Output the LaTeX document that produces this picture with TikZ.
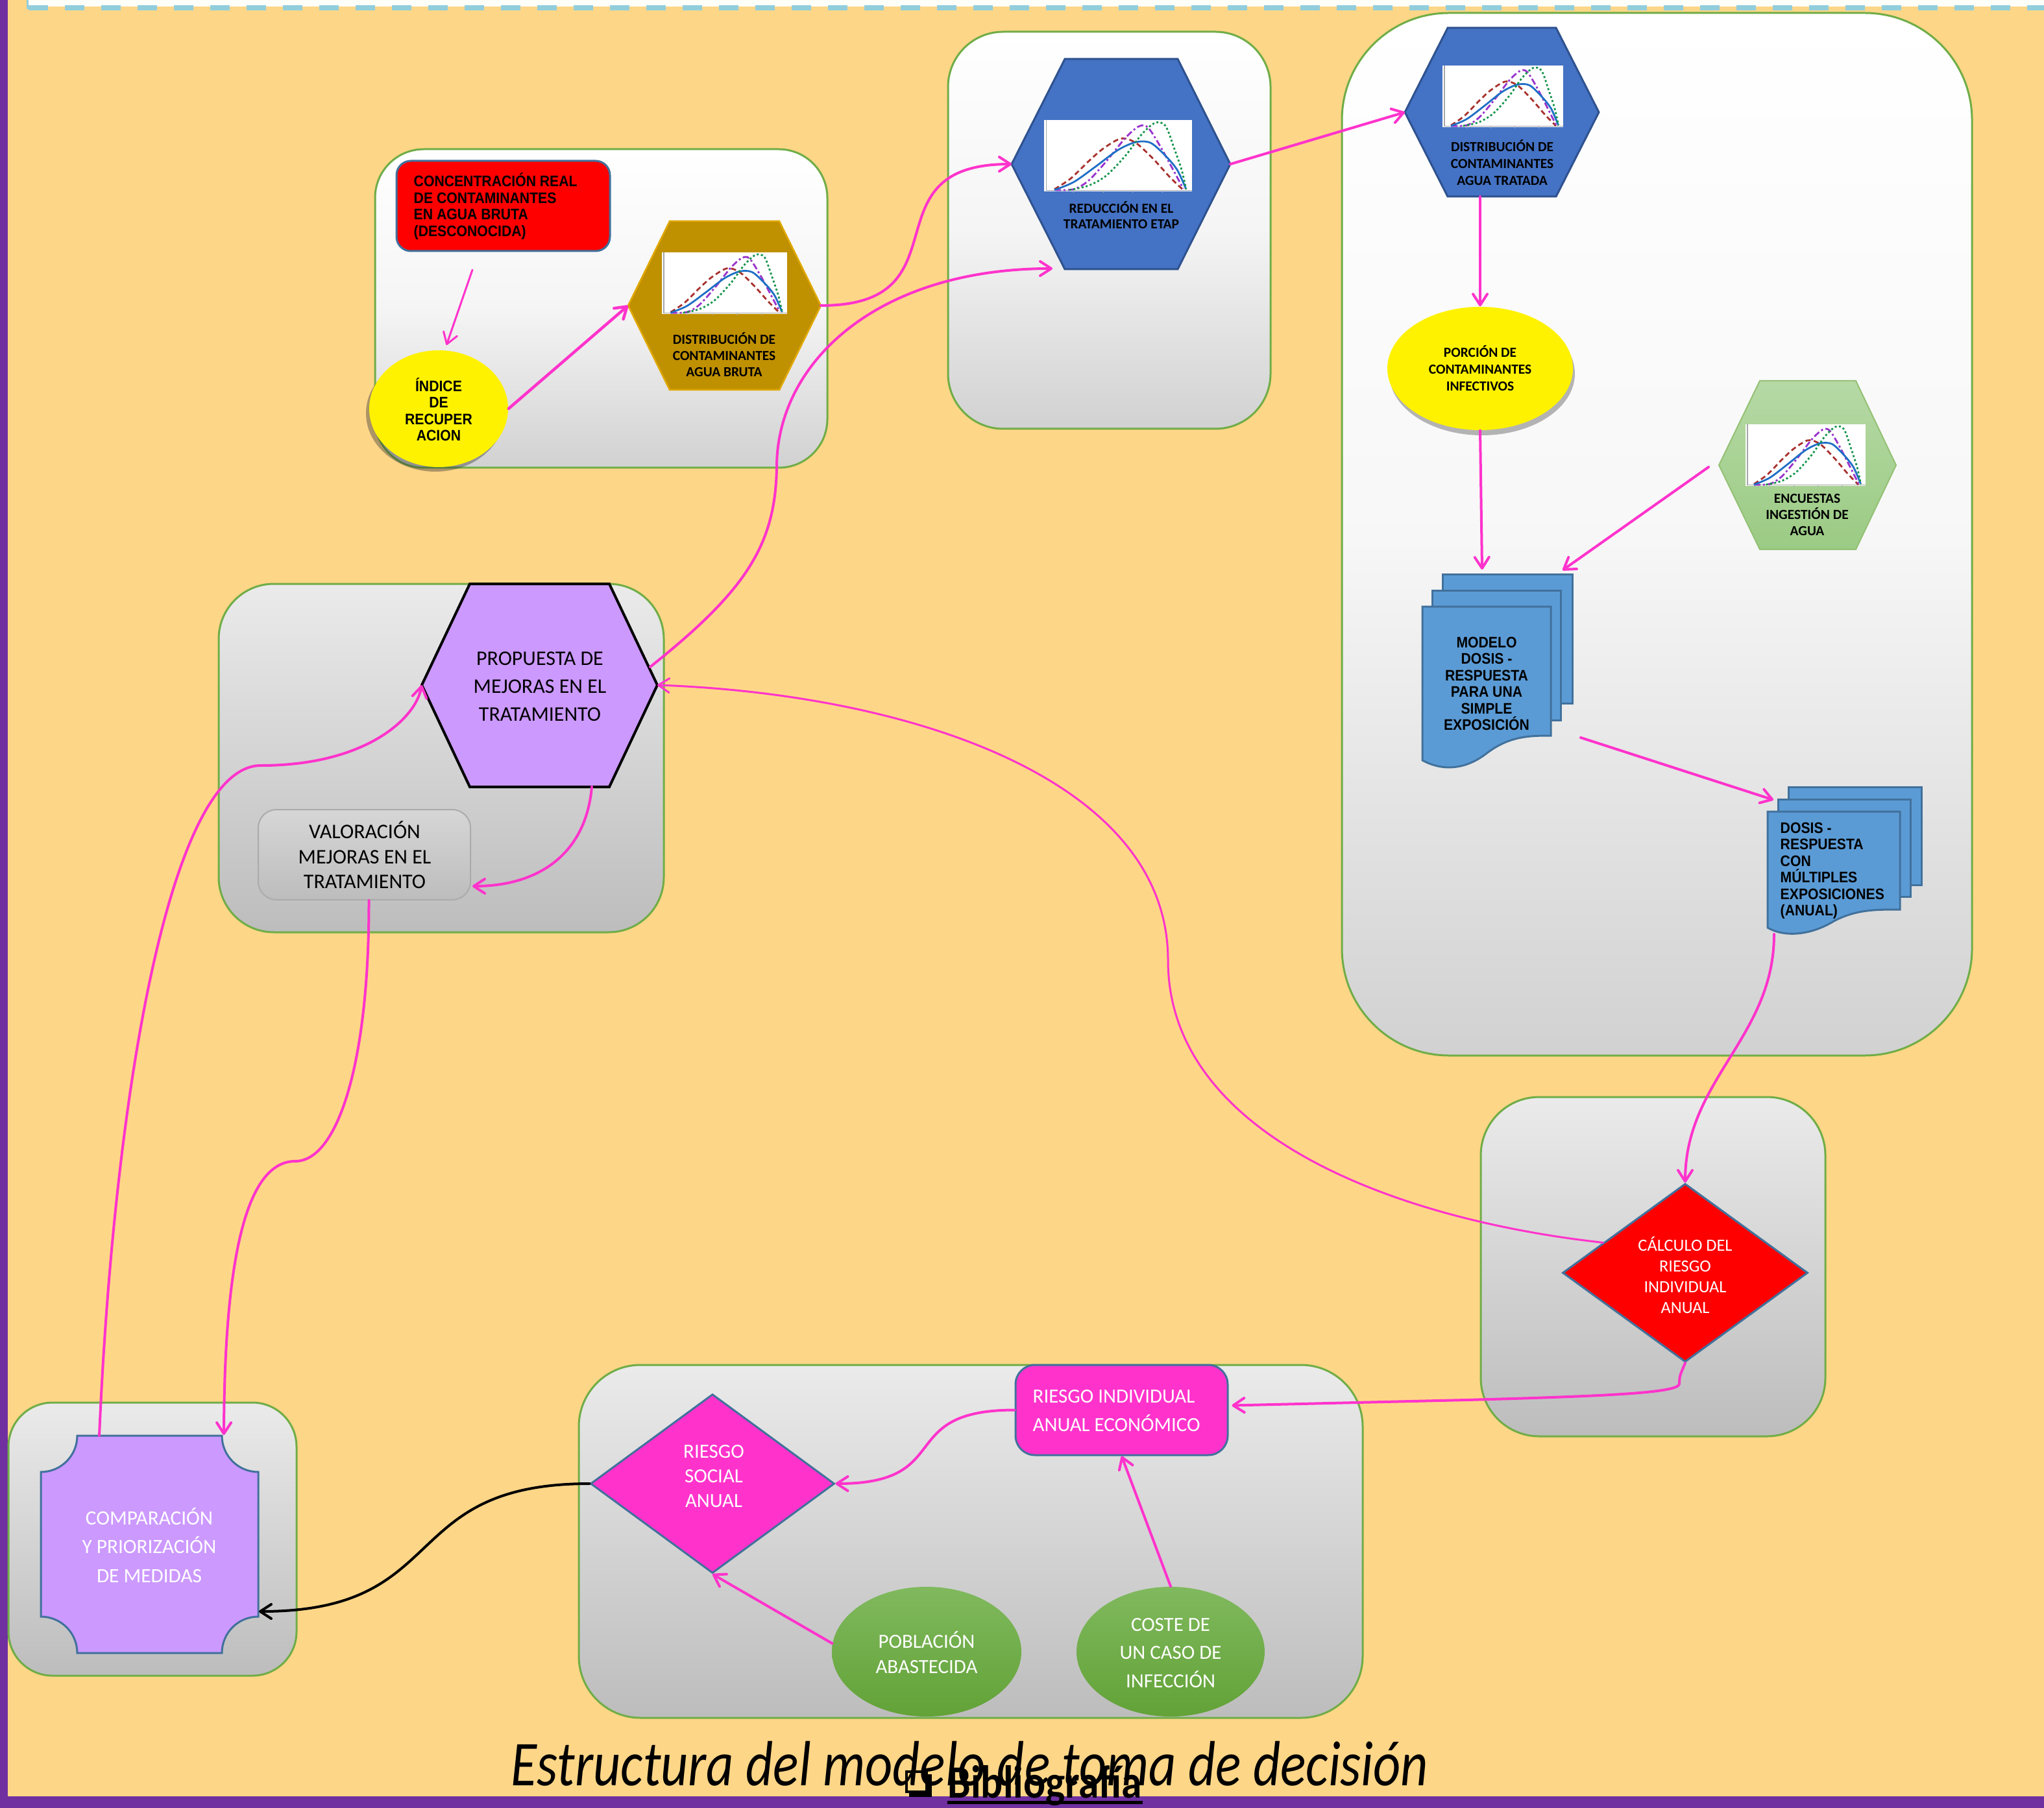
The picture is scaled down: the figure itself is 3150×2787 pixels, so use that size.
\documentclass[tikz,border=0pt]{standalone}
\usepackage{fontspec}
\setmainfont{Carlito}
\newfontfamily\calf{Carlito}
\newfontfamily\arialc{Liberation Sans}[FakeStretch=0.9]
\newfontfamily\titlef{Carlito}[FakeStretch=0.835]
\newfontfamily\bibf{Carlito}[FakeStretch=0.89]
\usetikzlibrary{arrows.meta,shapes.geometric,shadows,calc}
\definecolor{bgy}{HTML}{FED687}
\definecolor{purp}{HTML}{7030A0}
\definecolor{cyanl}{HTML}{92CDDC}
\definecolor{grn}{HTML}{70AD47}
\definecolor{pinkc}{HTML}{FF33CC}
\definecolor{steel}{HTML}{41719C}
\definecolor{hexblue}{HTML}{4472C4}
\definecolor{hexblueb}{HTML}{2F528F}
\definecolor{gold}{HTML}{BF9000}
\definecolor{goldb}{HTML}{E0A800}
\definecolor{docblue}{HTML}{5B9BD5}
\definecolor{lilac}{HTML}{CC99FF}
\definecolor{ellgA}{HTML}{80B95E}
\definecolor{ellgB}{HTML}{62A237}
\definecolor{hexgA}{HTML}{B6D9A5}
\definecolor{hexgB}{HTML}{9BCB84}
\definecolor{chr}{HTML}{A8322D}
\definecolor{chp}{HTML}{9933CC}
\definecolor{chb}{HTML}{1F6FC5}
\definecolor{chg}{HTML}{13944A}
\newcommand\fA{\arialc\bfseries\fontsize{6.7}{7.25}\selectfont}
\newcommand\fB[1]{\calf\bfseries\fontsize{6.1}{#1}\selectfont}
\newcommand\fC[2]{\calf\fontsize{#1}{#2}\selectfont}
\newcommand{\minichart}[4]{%
  \begin{scope}[shift={(#1,#2+#4)}, x={(#3*0.1mm,0mm)}, y={(0mm,#4*0.1mm)}]
    \fill[white] (0,0) rectangle (1,1);
    \draw[black!35, line width=0.15mm] (0.015,1) -- (0.015,0.015) -- (1,0.015);
    \foreach \t in {0.2,0.4,0.6,0.8}{\draw[black!30, line width=0.1mm] (\t,0.015) -- (\t,-0.02);}
    \draw[chr, line width=0.28mm, dash pattern=on 0.8mm off 0.5mm] plot[smooth] coordinates {(0.07,0.03) (0.18,0.18) (0.3,0.42) (0.4,0.6) (0.52,0.74) (0.62,0.68) (0.74,0.45) (0.85,0.2) (0.94,0.02)};
    \draw[chp, line width=0.28mm, dash pattern=on 1mm off 0.4mm on 0.3mm off 0.4mm] plot[smooth] coordinates {(0.07,0.02) (0.2,0.03) (0.3,0.15) (0.42,0.42) (0.55,0.75) (0.64,0.91) (0.7,0.9) (0.78,0.65) (0.86,0.35) (0.94,0.04)};
    \draw[chb, line width=0.28mm] plot[smooth] coordinates {(0.07,0.02) (0.2,0.13) (0.35,0.35) (0.5,0.58) (0.62,0.69) (0.72,0.68) (0.82,0.5) (0.9,0.3) (0.96,0.03)};
    \draw[chg, line width=0.28mm, dash pattern=on 0.3mm off 0.35mm] plot[smooth] coordinates {(0.17,0.02) (0.3,0.08) (0.42,0.22) (0.55,0.5) (0.66,0.8) (0.75,0.96) (0.82,0.92) (0.88,0.6) (0.93,0.3) (0.96,0.03)};
  \end{scope}}
\begin{document}
\begin{tikzpicture}[x=0.1mm,y=-0.1mm,
  cont/.style={draw=grn, line width=0.3mm},
  pk/.style={draw=pinkc, line width=0.4mm, line cap=round, -{Straight Barb[length=1.7mm,width=2.2mm,round]}},
  pkthin/.style={pk, line width=0.3mm},
  txt/.style={inner sep=0pt, align=center},
  doc/.style={fill=docblue, draw=steel, line width=0.3mm},
  hexbl/.style={fill=hexblue, draw=hexblueb, line width=0.3mm},
]
\useasboundingbox (0,0) rectangle (3150,2787);
% slide background
\fill[bgy] (0,0) rectangle (3150,2787);
\fill[purp] (0,0) rectangle (12,2787);
\fill[white!98!yellow] (44,0) rectangle (3150,10);
\draw[cyanl, line width=0.75mm, dash pattern=on 3mm off 2.6mm] (44,12) -- (3150,12);
\draw[cyanl, line width=0.3mm] (42,0) -- (42,14);
\fill[purp] (0,2769) rectangle (3150,2787);

% containers
\path[cont, top color=white, bottom color=white!82!black, middle color=white!96!black, rounded corners=7.5mm] (578,230) rectangle (1275,721);
\path[cont, top color=white, bottom color=white!82!black, middle color=white!96!black, rounded corners=8.5mm] (1461,49) rectangle (1958,661);
\path[cont, top color=white, bottom color=white!82!black, middle color=white!97!black, rounded corners=16.5mm] (2068,20) rectangle (3039,1627);
\path[cont, top color=white!92!black, bottom color=white!74!black, rounded corners=8.5mm] (337,900) rectangle (1023,1437);
\path[cont, top color=white!92!black, bottom color=white!74!black, rounded corners=9mm] (2282,1691) rectangle (2813,2214);
\path[cont, top color=white!92!black, bottom color=white!74!black, rounded corners=9.5mm] (892,2104) rectangle (2100,2648);
\path[cont, top color=white!92!black, bottom color=white!74!black, rounded corners=6.8mm] (13,2162) rectangle (457,2583);

% ---- box 1
\node[draw=steel, line width=0.3mm, fill=red, rounded corners=2.2mm, minimum width=32.9mm, minimum height=13.9mm, inner sep=0pt] (con) at (775.5,317.5) {};
\node[txt, anchor=west, align=left, font=\fA] (conT) at (637,318) {CONCENTRACIÓN REAL\\DE CONTAMINANTES\\EN AGUA BRUTA\\(DESCONOCIDA)};
\node[ellipse, fill=yellow, minimum width=21.4mm, minimum height=18mm, inner sep=0pt, drop shadow={shadow xshift=-0.5mm, shadow yshift=-0.7mm, opacity=0.4, fill=black!80}] (idx) at (676,630) {};
\node[txt, font=\fA] (idxT) at (676,631) {ÍNDICE\\DE\\RECUPER\\ACION};
\coordinate (hB-w) at (968,471); \coordinate (hB-e) at (1265,471);
\path[fill=gold, draw=goldb, line width=0.25mm] (1032,341) -- (1201,341) -- (hB-e) -- (1201,601) -- (1032,601) -- (hB-w) -- cycle;
\minichart{1020}{389}{193}{95}
\node[txt, font={\fB{7.1}}] (hBT) at (1116,547) {DISTRIBUCIÓN DE\\CONTAMINANTES\\AGUA BRUTA};

% ---- box 2
\coordinate (hR-w) at (1559,253); \coordinate (hR-e) at (1896,253);
\path[hexbl] (1641,91) -- (1815,91) -- (hR-e) -- (1815,415) -- (1641,415) -- (hR-w) -- cycle;
\minichart{1609}{185}{228}{110}
\node[txt, font={\fB{6.8}}] (hRT) at (1728,332) {REDUCCIÓN EN EL\\TRATAMIENTO ETAP};

% ---- box 3
\coordinate (hT-w) at (2165,173); \coordinate (hT-e) at (2464,173); \coordinate (hT-s) at (2314,303);
\path[hexbl] (2231,43) -- (2398,43) -- (hT-e) -- (2398,303) -- (2231,303) -- (hT-w) -- cycle;
\minichart{2223}{101}{186}{95}
\node[txt, font={\fB{7.4}}] (hTT) at (2315,251) {DISTRIBUCIÓN DE\\CONTAMINANTES\\AGUA TRATADA};
\node[ellipse, fill=yellow, minimum width=28.6mm, minimum height=19mm, inner sep=0pt, drop shadow={shadow xshift=0.3mm, shadow yshift=-0.8mm, opacity=0.35, fill=black!80}] (por) at (2281,568) {};
\node[txt, font={\fB{7.4}}] (porT) at (2281,568) {PORCIÓN DE\\CONTAMINANTES\\INFECTIVOS};
\coordinate (hE-w) at (2649,717); \coordinate (hE-e) at (2922,717);
\path[top color=hexgA, bottom color=hexgB, draw=grn!75, line width=0.2mm] (2712,587) -- (2860,587) -- (hE-e) -- (2860,847) -- (2712,847) -- (hE-w) -- cycle;
\minichart{2690}{654}{185}{95}
\node[txt, font={\fB{7.1}}] (hET) at (2785,794) {ENCUESTAS\\INGESTIÓN DE\\AGUA};
% modelo documents
\path[doc] (2223,885) rectangle (2423,1084);
\path[doc] (2207,910) rectangle (2405,1110);
\path[doc] (2192,935) -- (2390,935) -- (2390,1134) .. controls (2355,1134) and (2325,1135) .. (2290,1162) .. controls (2260,1185) and (2225,1190) .. (2192,1172) -- cycle;
\node[txt, font=\fA] (modT) at (2291,1054) {MODELO\\DOSIS -\\RESPUESTA\\PARA UNA\\SIMPLE\\EXPOSICIÓN};
\path[doc] (2756,1213) rectangle (2961,1364);
\path[doc] (2740,1232) rectangle (2944,1382);
\path[doc] (2724,1251) -- (2928,1251) -- (2928,1402) .. controls (2890,1402) and (2860,1402) .. (2826,1420) .. controls (2790,1442) and (2750,1445) .. (2724,1430) -- cycle;
\node[txt, anchor=west, align=left, font=\fA] (dosT) at (2743,1342) {DOSIS -\\RESPUESTA\\CON\\MÚLTIPLES\\EXPOSICIONES\\(ANUAL)};

% ---- box 4
\coordinate (hP-w) at (650,1056); \coordinate (hP-e) at (1013,1056);
\path[fill=lilac, draw=black, line width=0.4mm] (724,900) -- (939,900) -- (hP-e) -- (939,1213) -- (724,1213) -- (hP-w) -- cycle;
\node[txt, font={\fC{9.1}{12.2}}] (hPT) at (832,1058) {PROPUESTA DE\\MEJORAS EN EL\\TRATAMIENTO};
\node[draw=black!33, line width=0.2mm, top color=white!84!black, bottom color=white!74!black, rounded corners=2.8mm, minimum width=32.7mm, minimum height=13.9mm, inner sep=0pt] (val) at (561.5,1317.5) {};
\node[txt, font={\fC{9.1}{11}}] (valT) at (562,1318) {VALORACIÓN\\MEJORAS EN EL\\TRATAMIENTO};

% ---- box 5
\node[diamond, fill=red, draw=steel, line width=0.3mm, minimum width=37.8mm, minimum height=27.5mm, inner sep=0pt] (calcd) at (2597,1962) {};
\node[txt, text=white, font={\fC{7.5}{9.1}}] (calcT) at (2597,1966) {CÁLCULO DEL\\RIESGO\\INDIVIDUAL\\ANUAL};

% ---- box 6
\node[rectangle, rounded corners=3mm, fill=pinkc, draw=steel, line width=0.3mm, minimum width=32.7mm, minimum height=13.9mm, inner sep=0pt] (ri) at (1728.5,2173.5) {};
\node[txt, anchor=west, align=left, text=white, font={\fC{8.8}{12.5}}] (riT) at (1591,2175) {RIESGO INDIVIDUAL\\ANUAL ECONÓMICO};
\node[diamond, fill=pinkc, draw=steel, line width=0.3mm, minimum width=37.6mm, minimum height=27.6mm, inner sep=0pt] (soc) at (1098,2287) {};
\node[txt, text=white, font={\fC{8.8}{10.8}}] (socT) at (1100,2276) {RIESGO\\SOCIAL\\ANUAL};
\node[ellipse, top color=ellgA, bottom color=ellgB, minimum width=29.2mm, minimum height=20mm, inner sep=0pt] (pob) at (1428,2546) {};
\node[txt, text=white, font={\fC{8.8}{11.1}}] (pobT) at (1428,2547) {POBLACIÓN\\ABASTECIDA};
\node[ellipse, top color=ellgA, bottom color=ellgB, minimum width=29mm, minimum height=20mm, inner sep=0pt] (cos) at (1804,2546) {};
\node[txt, text=white, font={\fC{8.8}{12.5}}] (cosT) at (1804,2548) {COSTE DE\\UN CASO DE\\INFECCIÓN};

% ---- box 7
\path[fill=lilac, draw=steel, line width=0.3mm] (119,2213) -- (342,2213) .. controls (342,2244) and (367,2269) .. (398,2269) -- (398,2492) .. controls (367,2492) and (342,2517) .. (342,2548) -- (119,2548) .. controls (119,2517) and (94,2492) .. (63,2492) -- (63,2269) .. controls (94,2269) and (119,2244) .. (119,2213) -- cycle;
\node[txt, text=white, font={\fC{8.9}{12.7}}] (cmpT) at (230,2382) {COMPARACIÓN\\Y PRIORIZACIÓN\\DE MEDIDAS};

% connector end points
\coordinate (a1s) at (728,416); \coordinate (a1e) at (688,532);
\coordinate (hR-bl) at (1622,414);
\coordinate (hP-ne) at (1002,1028);
\coordinate (hP-s) at (912,1213);
\coordinate (m-top) at (2284,878);
\coordinate (e-s) at (2633,720);
\coordinate (m-tr) at (2408,879);
\coordinate (m-out) at (2436,1137);
\coordinate (d-in) at (2733,1233);
\coordinate (d-out) at (2734,1440);
\coordinate (cmp-t1) at (153,2213);
\coordinate (cmp-t2) at (345,2212);
\coordinate (cmp-e) at (399,2484);

% connectors
\draw[pkthin] (a1s) -- (a1e);
\draw[pk, line width=0.45mm] (idx.east) -- (hB-w);
\draw[pk] (hB-e) to[out=0,in=180,looseness=1.6] (hR-w);
\draw[pk] (hR-e) -- (hT-w);
\draw[pk] (por.north |- hT-s) -- (por.north);
\draw[pk] (por.south) -- (m-top);
\draw[pk] (e-s) -- (m-tr);
\draw[pk] (m-out) -- (d-in);
\draw[pk] (d-out) to[out=-90,in=90] (calcd.north);
\draw[pkthin] ($(calcd.west)!0.335!(calcd.north)$) .. controls (2150,1880) and (1800,1750) .. (1800,1480) .. controls (1800,1200) and (1400,1070) .. (hP-e);
\draw[pk] (calcd.south) .. controls (2590,2118) and (2588,2120) .. (2588,2133) .. controls (2588,2147) and (2480,2152) .. (2260,2158) -- ($(ri.east)+(5,-7)$);
\draw[pk] (ri.west) to[out=180,in=0,looseness=1.6] (soc.east);
\draw[pk] (cos.north) -- (ri.south);
\draw[pk] (pob.175) -- (soc.south);
\draw[draw=black, line width=0.4mm, line cap=round, -{Straight Barb[length=1.7mm,width=2.2mm,round]}] (soc.west) to[out=180,in=0,looseness=1.4] (cmp-e);
\draw[pk] (hP-ne) .. controls (1150,910) and (1195,840) .. (1197,720) .. controls (1197,560) and (1350,414) .. (hR-bl);
\draw[pk] (hP-s) to[out=-95,in=0,looseness=1.1] ($(val.south east)+(2,-22)$);
\draw[pk] (cmp-t1) .. controls (175,1700) and (260,1180) .. (402,1180) .. controls (560,1180) and (640,1110) .. (hP-w);
\draw[pk] ([xshift=0.7mm]val.south) .. controls (569,1640) and (520,1790) .. (455,1790) .. controls (390,1790) and (346,1900) .. (cmp-t2);

% title and footer
\node[anchor=base west, inner sep=0pt, font=\titlef\itshape\fontsize{28}{30}\selectfont] (title) at (787,2752) {Estructura del modelo de toma de decisión};
\draw[line width=0.35mm] (1397,2731) rectangle (1428,2762);
\fill (1401,2762) rectangle (1436,2770);
\fill (1428,2735) rectangle (1436,2770);
\node[anchor=base west, inner sep=0pt, font=\bibf\bfseries\fontsize{20.3}{22}\selectfont] (bib) at (1460,2771) {Bibliografía};
\draw[line width=0.5mm] ([yshift=-0.7mm]bib.base west) -- ([yshift=-0.7mm]bib.base east);
\end{tikzpicture}
\end{document}
